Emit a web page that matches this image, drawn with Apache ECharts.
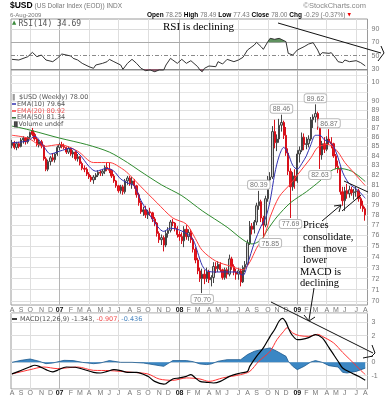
<!DOCTYPE html>
<html><head><meta charset="utf-8">
<script src="https://cdn.jsdelivr.net/npm/echarts@6.0.0/dist/echarts.min.js"></script>
<style>html,body{margin:0;padding:0;background:#fff;overflow:hidden}#chart{width:388px;height:400px}</style>
</head><body><div id="chart"></div>
<script>
// ---------- DATA (week index 0 = week of 7-Aug-2006, weekly bars) ----------
const weekOpen = [
85.1,85.4,84.9,85.3,85.0,85.7,85.9,85.5,86.0,86.7,
86.3,85.8,85.2,85.5,85.1,83.7,82.6,83.4,83.8,83.6,
84.2,84.9,85.2,85.0,84.9,84.4,84.8,84.2,84.4,83.7,
83.9,83.2,82.7,82.6,82.1,81.8,81.5,81.8,82.0,82.3,
82.2,82.4,82.8,82.6,82.5,81.9,81.4,80.9,80.4,80.8,
80.3,81.4,81.7,81.1,81.4,80.9,80.0,79.2,78.3,78.5,
78.0,78.3,78.2,77.6,77.2,76.2,75.6,75.8,75.1,76.2,
76.5,77.3,77.2,76.7,76.1,75.9,75.5,76.6,75.9,76.3,
75.6,74.7,73.7,72.7,72.0,72.4,72.0,72.6,71.9,72.1,
73.1,72.9,73.3,72.8,72.1,72.8,72.4,73.8,73.1,72.6,
72.4,72.7,71.7,73.0,73.3,75.3,76.9,76.6,77.3,78.9,
79.3,77.7,77.0,79.6,81.5,81.8,86.6,85.4,85.8,87.3,
87.6,86.2,84.3,82.4,80.8,81.9,81.4,84.2,84.6,86.0,
85.2,85.3,85.8,87.9,88.2,88.6,87.3,84.1,85.3,84.7,
85.8,85.5,85.3,84.0,82.9,82.6,80.3,79.4,80.4,80.1,
80.5,80.2,80.3,80.4,79.6,78.9,78.6];
const weekHigh = [
85.7,85.6,85.5,85.5,85.9,86.1,86.0,86.1,86.6,87.0,
86.5,86.0,85.7,85.7,85.2,83.9,83.6,84.0,84.3,84.3,
85.1,85.4,85.5,85.3,85.0,85.0,84.9,84.6,84.5,84.2,
84.0,83.4,83.0,82.8,82.3,82.0,82.0,82.2,82.5,82.5,
82.6,83.0,83.3,83.3,82.6,82.1,81.5,81.0,81.0,81.0,
81.6,81.9,81.9,81.8,81.6,81.0,80.2,79.4,78.8,78.9,
78.5,78.7,78.3,77.8,77.3,76.4,76.1,76.0,76.5,76.8,
77.5,77.6,77.3,76.9,76.4,76.3,76.9,77.0,76.6,76.6,
75.8,74.9,73.9,73.0,72.9,72.8,73.0,72.8,72.3,73.5,
73.5,73.6,73.5,72.9,73.0,73.0,74.2,74.0,73.3,72.9,
73.0,72.9,73.2,73.6,75.6,77.4,77.2,77.5,79.2,80.39,
79.5,77.9,79.9,81.9,82.3,87.2,87.9,86.3,88.0,88.46,
87.8,87.1,84.8,82.7,82.3,82.6,84.6,85.0,86.5,86.4,
86.0,86.2,88.2,88.5,89.62,88.8,87.5,85.6,86.0,86.1,
86.87,86.0,85.4,84.2,83.5,82.8,80.8,80.8,81.1,80.9,
80.8,80.6,80.8,80.6,79.8,79.4,78.8];
const weekLow = [
84.8,84.7,84.6,84.8,84.9,85.3,85.2,85.3,85.8,86.1,
85.6,85.0,84.9,84.8,83.5,82.4,82.4,83.0,83.4,83.3,
84.0,84.6,84.8,84.7,84.2,84.2,84.0,83.8,83.5,83.4,
83.0,82.5,82.3,81.9,81.6,81.3,81.1,81.5,81.8,81.9,
81.9,82.1,82.4,82.2,81.7,81.2,80.7,80.2,80.1,80.0,
80.1,81.0,80.9,80.6,80.6,79.7,78.9,78.1,77.9,77.7,
77.6,77.9,77.3,76.9,75.9,75.3,75.1,74.5,74.9,75.8,
76.3,76.9,76.4,75.8,75.5,75.2,74.9,75.6,75.5,75.3,
74.4,73.4,72.4,71.7,70.70,71.5,71.7,71.6,71.3,71.6,
72.5,72.6,72.6,71.9,71.9,72.0,72.2,72.8,72.3,71.9,
71.9,71.3,71.6,72.6,73.2,75.1,76.1,76.2,77.0,78.5,
77.3,75.85,76.8,79.3,80.9,81.6,84.8,84.5,85.4,86.6,
85.8,84.0,82.0,77.69,80.4,80.6,81.2,83.3,84.4,84.6,
84.7,84.9,85.6,87.0,87.6,86.8,82.63,83.6,84.3,84.5,
85.2,84.8,83.8,82.6,82.2,80.0,78.9,78.4,79.6,79.7,
79.9,79.5,79.8,79.3,78.6,78.3,77.43];
const weekClose = [
85.4,84.9,85.3,85.0,85.7,85.9,85.5,86.0,86.5,86.3,
85.8,85.2,85.5,85.1,83.7,82.6,83.4,83.8,83.6,84.2,
84.9,85.2,85.0,84.9,84.4,84.8,84.2,84.4,83.7,83.9,
83.2,82.7,82.6,82.1,81.8,81.5,81.8,82.0,82.3,82.2,
82.4,82.8,82.6,82.5,81.9,81.4,80.9,80.4,80.8,80.3,
81.4,81.7,81.1,81.4,80.9,80.0,79.2,78.3,78.5,78.0,
78.3,78.2,77.6,77.2,76.2,75.6,75.8,75.1,76.2,76.5,
77.3,77.2,76.7,76.1,75.9,75.5,76.6,75.9,76.3,75.6,
74.7,73.7,72.7,72.0,72.4,72.0,72.6,71.9,72.1,73.1,
72.9,73.3,72.8,72.1,72.8,72.4,73.8,73.1,72.6,72.4,
72.7,71.7,73.0,73.3,75.3,76.9,76.6,77.3,78.9,79.3,
77.7,77.0,79.6,81.5,81.8,86.6,85.4,85.8,87.3,87.6,
86.2,84.3,82.4,80.8,81.9,81.4,84.2,84.6,86.0,85.2,
85.3,85.8,87.9,88.2,88.6,87.3,84.1,85.3,84.7,85.8,
85.5,85.3,84.0,82.9,82.6,80.3,79.4,80.4,80.1,80.5,
80.2,80.3,80.4,79.6,78.9,78.6,78.0];

const ema10 = [[0,85.4],[7,85.6],[10,86.1],[14,85.0],[17,84.2],[21,84.5],[26,84.8],[30,84.1],[34,82.9],[37,82.4],[42,82.7],[45,82.4],[48,81.6],[51,81.2],[54,80.9],[57,79.4],[62,77.6],[67,76.4],[70,76.7],[73,76.6],[77,76.2],[80,75.6],[82,74.4],[84,73.2],[86,72.7],[90,72.6],[95,72.6],[99,72.6],[102,72.3],[104,73.3],[107,75.3],[110,76.9],[112,77.7],[114,79.4],[116,82.1],[118,84.0],[120,84.9],[122,84.2],[124,83.0],[126,82.6],[128,83.2],[130,84.0],[132,85.2],[134,86.2],[136,86.2],[138,85.7],[140,85.5],[142,85.0],[144,83.8],[146,82.3],[148,81.4],[150,80.9],[153,80.4],[156,79.64]];
const ema20 = [[0,86.2],[7,85.9],[14,85.0],[21,85.2],[29,84.5],[36,83.3],[43,83.3],[49,82.6],[52,82.0],[57,80.8],[64,79.2],[71,77.7],[77,77.1],[81,75.7],[84,74.6],[90,73.6],[97,73.1],[102,72.8],[105,73.5],[108,74.8],[111,75.8],[113,77.0],[114,77.8],[118,79.8],[123,81.1],[126,82.0],[132,83.8],[135,84.9],[139,85.2],[141,85.1],[144,84.4],[147,83.3],[150,82.5],[153,81.7],[156,80.92]];
const ema50 = [[0,87.2],[4,87.0],[9,86.7],[21,85.9],[33,85.2],[43,84.4],[51,83.3],[56,82.5],[66,81.0],[75,79.9],[84,78.4],[95,76.8],[102,75.6],[106,75.2],[110,75.6],[113,76.6],[117,77.8],[123,79.2],[130,80.3],[136,81.4],[140,82.3],[144,82.7],[150,82.4],[156,81.34]];

const rsi14 = [[0,44.5],[3,43.5],[7,48.5],[9,55],[11,48.5],[13,51],[15,43.5],[18,41],[20,46],[22,52.5],[26,49.5],[27,46],[29,43.5],[31,38.5],[34,33.5],[36,31],[37,36],[40,38.5],[42,41],[43,44.5],[45,41],[48,36],[49,29.5],[51,38.5],[53,44.5],[55,38.5],[57,31],[59,27.5],[61,28.5],[63,26],[65,28.5],[67,28.5],[68,36],[70,46],[71,43.5],[73,38.5],[75,44.5],[77,38.5],[79,42.5],[82,33.5],[83,28.5],[84,26],[85,31],[87,34.5],[90,33.5],[91,41],[93,37.5],[95,44.5],[98,41],[100,43.5],[102,47.5],[104,58.5],[106,63.5],[107,66],[108,70],[110,63.5],[111,59.5],[113,71],[114,76],[116,74.5],[118,76],[121,71],[122,53.5],[124,51],[126,58.5],[129,63.5],[131,67.5],[133,69.5],[135,58.5],[136,51],[137,54.5],[140,53.5],[141,54.5],[143,46],[144,41],[146,39.5],[147,43.5],[149,41],[152,42.5],[154,39.5],[156,34.69]];
const rsiOverbought = [[112.83,70],[113,71],[114,76],[116,74.5],[118,76],[121,71],[121.06,70]];
const rsiOversoldA = [[57.57,30],[59,27.5],[61,28.5],[63,26],[65,28.5],[67,28.5],[67.2,30]];
const rsiOversoldB = [[82.7,30],[83,28.5],[84,26],[84.8,30]];

const macdLine = [[0,-0.87],[3,-0.68],[8,-0.33],[10,-0.22],[12,-0.3],[15,-0.55],[18,-0.72],[20,-0.6],[24,-0.35],[28,-0.37],[31,-0.5],[36,-0.75],[39,-0.8],[42,-0.68],[45,-0.55],[48,-0.62],[51,-0.75],[55,-0.75],[60,-1.05],[63,-1.43],[67,-1.63],[68,-1.6],[71,-1.25],[74,-1.17],[77,-1.05],[79,-0.92],[81,-1.17],[83,-1.43],[86,-1.5],[89,-1.55],[92,-1.43],[96,-1.05],[101,-0.8],[104,-0.68],[105,-0.3],[108,0.45],[111,1.08],[114,1.95],[116,2.46],[118,3.1],[119.5,3.3],[121,3.0],[122,2.6],[123.5,2.1],[126,1.7],[128,1.72],[131,1.85],[134,2.08],[137,1.83],[140,1.1],[144,0.08],[146,-0.42],[150,-0.8],[153,-1.05],[156,-1.343]];
const macdSignal = [[0,-0.87],[8,-0.55],[14,-0.35],[20,-0.47],[29,-0.35],[36,-0.6],[43,-0.62],[53,-0.75],[60,-0.87],[65,-1.25],[71,-1.35],[77,-1.17],[83,-1.25],[87,-1.43],[93,-1.17],[101,-0.92],[105,-0.68],[109,0.08],[114,0.83],[117,1.7],[120,2.33],[121.5,2.6],[124,2.2],[127,2.0],[131,1.95],[135,2.1],[137,1.95],[142,1.46],[146,0.75],[149,0.25],[152,-0.25],[154,-0.6],[156,-0.907]];
const macdHist = [[0,0],[4,0.15],[8,0.25],[12,0.08],[15,-0.1],[18,-0.05],[23,0.15],[27,0.13],[31,0],[36,-0.1],[39,-0.05],[43,0.13],[48,0],[53,0],[58,-0.05],[64,-0.22],[67,-0.3],[71,0.13],[77,0.13],[80,0.05],[83,-0.12],[86,-0.17],[88,-0.12],[91,0.08],[95,0.2],[101,0.2],[104,0.58],[107,0.83],[110,0.95],[114,1.08],[117,0.83],[121,0.45],[122,0.08],[124,-0.3],[126,-0.55],[129,-0.3],[132,0.03],[134,0.13],[137,0],[140,-0.25],[144,-0.35],[146,-0.75],[148,-0.8],[152,-0.68],[156,-0.436]];

const priceTickLabels = [70,71,72,73,74,75,76,77,78,79,80,81,82,83,84,85,86,87,88,89,90];
const priceExtraLines = [91,92,93];
const rsiLevels = [30,50,70,90];
const macdTickLabels = [3,2,0,-1];
const monthLetters = ['J','F','M','A','M','J','J','A','S','O','N','D'];
const priceNotes = [
  {week:134, value:89.62, side:'top'},
  {week:119, value:88.46, side:'top'},
  {week:140, value:86.87, side:'top'},
  {week:109, value:80.39, side:'top'},
  {week:136, value:82.63, side:'bottom'},
  {week:123, value:77.69, side:'bottom'},
  {week:111, value:75.85, side:'bottom', dx:7},
  {week:84,  value:70.70, side:'bottom'}
];

// ---------- helpers ----------
const nWeeks = weekClose.length;
function weekDate(i){ return new Date(2006, 7, 7 + 7*i); }
const monthStarts = [];
for (let i = 0; i < nWeeks; i++) {
  if (i === 0 || weekDate(i).getMonth() !== weekDate(i-1).getMonth()) monthStarts.push(i);
}
const quarterStarts = monthStarts.filter(i => weekDate(i).getMonth() % 3 === 0);
function monthLabel(v){
  const d = weekDate(Math.round(v));
  return d.getMonth() === 0 ? '{y|' + String(d.getFullYear()).slice(2) + '}' : monthLetters[d.getMonth()];
}
const candles = weekClose.map((c, i) => [i, weekOpen[i], c, weekLow[i], weekHigh[i]]);

const L = 11, W = 356.5;
const XMIN = -0.44, XMAX = 157;
const SANS = 'Liberation Sans', VER = 'DejaVu Sans', SERIF = 'Liberation Serif';

function vLines(){
  return quarterStarts.map(i => ({xAxis: i, lineStyle: {color: weekDate(i).getMonth() === 0 ? '#b5b5b5' : '#dedede', width: 1, type: 'solid'}}));
}
const xBase = {type:'value', min:XMIN, max:XMAX, axisLine:{show:false}, axisTick:{show:false}, splitLine:{show:false}};
const xLabel = {customValues: monthStarts, formatter: monthLabel, fontSize: 7, color: '#777', fontFamily: SANS,
  rich: {y: {fontWeight: 'bold', color: '#111', fontSize: 7, fontFamily: SANS}}};

const chart = echarts.init(document.getElementById('chart'), null, {renderer: 'canvas'});

function T(x, y, text, style, extra){
  return Object.assign({type:'text', x: x, y: y, z: 100, silent: true,
    style: Object.assign({text: text, fontFamily: SANS, fontSize: 7, fill: '#555', verticalAlign: 'middle'}, style || {})}, extra || {});
}
function Ln(x1,y1,x2,y2){ return {type:'line', z:100, silent:true, shape:{x1,y1,x2,y2}, style:{stroke:'#111', lineWidth:1}}; }
function PL(pts){ return {type:'polyline', z:100, silent:true, shape:{points: pts}, style:{stroke:'#111', lineWidth:1, fill:null}}; }

const option = {
  animation: false,
  backgroundColor: '#fff',
  textStyle: {fontFamily: SANS},
  grid: [
    {left: L, width: W, top: 19, height: 51, show: true, borderColor: '#9a9a9a', borderWidth: 1, backgroundColor: '#fff'},
    {left: L, width: W, top: 15.67, height: 66.67},
    {left: L, width: W, top: 70, height: 235, show: true, borderColor: '#9a9a9a', borderWidth: 1, backgroundColor: '#fff'},
    {left: L, width: W, top: 313, height: 76, show: true, borderColor: '#9a9a9a', borderWidth: 1, backgroundColor: '#fff'}
  ],
  xAxis: [
    Object.assign({}, xBase, {gridIndex: 0, axisLabel: {show: false}}),
    Object.assign({}, xBase, {gridIndex: 1, axisLabel: {show: false}}),
    Object.assign({}, xBase, {gridIndex: 2, axisLabel: Object.assign({}, xLabel, {margin: 2})}),
    Object.assign({}, xBase, {gridIndex: 3, axisLabel: Object.assign({}, xLabel, {margin: 1})})
  ],
  yAxis: [
    {type:'value', gridIndex:0, min:0, max:1, show:false},
    {type:'value', gridIndex:1, position:'right', min:10, max:110, interval:20,
      axisLine:{show:false}, axisTick:{show:false}, splitLine:{show:false},
      axisLabel:{fontSize:7, color:'#777', margin:4, formatter: v => v === 110 ? '' : String(v)}},
    {type:'log', logBase:10, gridIndex:2, position:'right', min:69.65, max:93.57,
      axisLine:{show:false}, axisTick:{show:false}, splitLine:{show:false}, axisLabel:{show:false}},
    {type:'value', gridIndex:3, position:'right', min:-2, max:3.7, interval:1,
      axisLine:{show:false}, axisTick:{show:false},
      splitLine:{show:true, lineStyle:{color:'#dedede', width:1}},
      axisLabel:{fontSize:7, color:'#777', margin:4, formatter: v => macdTickLabels.indexOf(v) >= 0 ? String(v) : ''}}
  ],
  series: [
    // RSI frame vertical grid
    {type:'line', xAxisIndex:0, yAxisIndex:0, data:[], silent:true,
      markLine:{silent:true, z:1, symbol:['none','none'], label:{show:false}, data: vLines()}},
    // RSI level lines
    {type:'line', xAxisIndex:1, yAxisIndex:1, data:[], silent:true,
      markLine:{silent:true, z:1, symbol:['none','none'], label:{show:false},
        data: rsiLevels.map(v => ({yAxis: v, lineStyle: {
          color: v === 30 ? '#8a8a8a' : (v === 50 ? '#8a8a8a' : (v === 70 ? '#aaaaaa' : '#dcdcdc')),
          width: 1, type: v === 50 ? [4,2,1,2] : 'solid'}}))}},
    {type:'line', xAxisIndex:1, yAxisIndex:1, data: rsiOverbought, symbol:'none', silent:true, z:2,
      lineStyle:{width:0}, areaStyle:{origin:70, color:'#5f915f', opacity:1}},
    {type:'line', xAxisIndex:1, yAxisIndex:1, data: rsiOversoldA, symbol:'none', silent:true, z:2,
      lineStyle:{width:0}, areaStyle:{origin:30, color:'#8d5a6c', opacity:1}},
    {type:'line', xAxisIndex:1, yAxisIndex:1, data: rsiOversoldB, symbol:'none', silent:true, z:2,
      lineStyle:{width:0}, areaStyle:{origin:30, color:'#8d5a6c', opacity:1}},
    {name:'RSI', type:'line', xAxisIndex:1, yAxisIndex:1, data: rsi14, symbol:'none', z:3,
      lineStyle:{color:'#333', width:1}},
    // Main panel grid lines
    {type:'line', xAxisIndex:2, yAxisIndex:2, data:[], silent:true,
      markLine:{silent:true, z:1, symbol:['none','none'], label:{show:false},
        data: priceTickLabels.map(v => ({yAxis: v, lineStyle:{color:'#e0e0e0', width:1, type:'solid'},
              label:{show:true, position:'end', distance:4, formatter: String(v), fontSize:7, color:'#777'}}))
          .concat(priceExtraLines.map(v => ({yAxis: v, lineStyle:{color:'#e6e6e6', width:1, type:'solid'}})))
          .concat(vLines())}},
    {name:'$USD', type:'candlestick', xAxisIndex:2, yAxisIndex:2, data: candles, z:3, barWidth: 1.8,
      itemStyle:{color:'#cfcfcf', color0:'#e8141a', borderColor:'#444', borderColor0:'#d8101a', borderWidth:1},
      markPoint:{symbol:'circle', symbolSize:0, silent:true, z:6,
        label:{show:true, fontSize:7, color:'#777', fontFamily:SANS, backgroundColor:'#fff', borderColor:'#bbb',
          borderWidth:1, borderRadius:2, padding:[1,2,0,2]},
        data: priceNotes.map(n => ({coord:[n.week, n.value], name: n.value.toFixed(2),
          label:{position:n.side, distance:2, formatter:'{b}', offset:[n.dx || 0, 0]}}))}},
    {name:'EMA50', type:'line', xAxisIndex:2, yAxisIndex:2, data: ema50, symbol:'none', smooth:0.3, z:4,
      lineStyle:{color:'#2e8b2e', width:1}},
    {name:'EMA20', type:'line', xAxisIndex:2, yAxisIndex:2, data: ema20, symbol:'none', smooth:0.3, z:4,
      lineStyle:{color:'#ff3b3b', width:1}},
    {name:'EMA10', type:'line', xAxisIndex:2, yAxisIndex:2, data: ema10, symbol:'none', smooth:0.3, z:4,
      lineStyle:{color:'#3030b0', width:1}},
    // MACD panel
    {type:'line', xAxisIndex:3, yAxisIndex:3, data:[], silent:true,
      markLine:{silent:true, z:1, symbol:['none','none'], label:{show:false}, data: vLines()}},
    {name:'Hist', type:'line', xAxisIndex:3, yAxisIndex:3, data: macdHist, symbol:'none', z:2,
      lineStyle:{color:'#1d5a8f', width:0.8}, areaStyle:{color:'#3b87c4', opacity:1}},
    {name:'Signal', type:'line', xAxisIndex:3, yAxisIndex:3, data: macdSignal, symbol:'none', smooth:0.3, z:3,
      lineStyle:{color:'#ff3333', width:1}},
    {name:'MACD', type:'line', xAxisIndex:3, yAxisIndex:3, data: macdLine, symbol:'none', smooth:0.3, z:4,
      lineStyle:{color:'#000', width:1.2}}
  ],
  graphic: [
    T(10, 6, '{b|$USD} {g|(US Dollar Index (EOD)) INDX}', {rich:{
      b:{fontFamily:SANS, fontWeight:'bold', fontSize:8.5, fill:'#000'},
      g:{fontFamily:SANS, fontSize:6.5, fill:'#777'}}}),
    T(10, 15, '6-Aug-2009', {fontSize:6, fill:'#777'}),
    T(366, 6, '\u00a9StockCharts.com', {fontSize:7.5, fill:'#888', align:'right'}),
    T(147, 15, '{b|Open} {v|78.25} {b|High} {v|78.49} {b|Low} {v|77.43} {b|Close} {v|78.00} {b|Chg} {v|-0.29 (-0.37%)} {r|\u25BC}', {rich:{
      b:{fontFamily:SANS, fontWeight:'bold', fontSize:6.5, fill:'#000'},
      v:{fontFamily:SANS, fontSize:6.5, fill:'#777'},
      r:{fontFamily:VER, fontSize:4.5, fill:'#e00'}}}),
    T(12, 23, '\u25B2', {fontFamily:VER, fontSize:5.5, fill:'#3a8a3a'}),
    T(18.5, 23.5, 'RSI(14) 34.69', {fontFamily:'DejaVu Sans Mono', fontSize:8, fill:'#555'}),
    T(163, 27.5, 'RSI is declining', {fontFamily:SERIF, fontSize:11, fill:'#000'}),
    // main legend
    T(12, 97.5, '\u2016', {fontFamily:VER, fontSize:6.5, fill:'#333'}),
    T(19, 97.5, '$USD (Weekly) 78.00', {fontFamily:VER, fontSize:6.5, fill:'#555'}),
    {type:'line', z:100, silent:true, shape:{x1:12, y1:104, x2:16, y2:104}, style:{stroke:'#3030b0', lineWidth:1.5}},
    T(17, 104, 'EMA(10) 79.64', {fontFamily:VER, fontSize:6.5, fill:'#555'}),
    {type:'line', z:100, silent:true, shape:{x1:12, y1:111, x2:16, y2:111}, style:{stroke:'#ff3b3b', lineWidth:1.5}},
    T(17, 111, 'EMA(20) 80.92', {fontFamily:VER, fontSize:6.5, fill:'#e55'}),
    {type:'line', z:100, silent:true, shape:{x1:12, y1:117.8, x2:16, y2:117.8}, style:{stroke:'#2e6b2e', lineWidth:1.5}},
    T(17, 117.8, 'EMA(50) 81.34', {fontFamily:VER, fontSize:6.5, fill:'#555'}),
    T(12, 124.3, '\u2590\u258C', {fontFamily:VER, fontSize:5, fill:'#444'}),
    T(18.5, 124.3, 'Volume undef', {fontFamily:VER, fontSize:6.5, fill:'#555'}),
    // MACD legend
    {type:'line', z:100, silent:true, shape:{x1:12, y1:319, x2:17, y2:319}, style:{stroke:'#000', lineWidth:1.5}},
    T(20, 319, '{k|MACD(12,26,9) -1.343,} {r|-0.907,} {b|-0.436}', {rich:{
      k:{fontFamily:VER, fontSize:6.5, fill:'#555'},
      r:{fontFamily:VER, fontSize:6.5, fill:'#f05050'},
      b:{fontFamily:VER, fontSize:6.5, fill:'#4a86c0'}}}),
    // annotations
    Ln(278, 23, 381, 53),
    PL([[381,46],[384,53],[378,61]]),
    Ln(344, 181, 368, 192),
    Ln(342, 211, 361, 195),
    Ln(322, 221, 341, 205),
    PL([[334,206],[341,205],[339,212]]),
    T(303, 225, 'Prices', {fontFamily:SERIF, fontSize:10.5, fill:'#000'}),
    T(303, 237, 'consolidate,', {fontFamily:SERIF, fontSize:10.5, fill:'#000'}),
    T(303, 249, 'then move', {fontFamily:SERIF, fontSize:10.5, fill:'#000'}),
    T(303, 260.5, 'lower', {fontFamily:SERIF, fontSize:10.5, fill:'#000'}),
    T(300, 272, 'MACD is', {fontFamily:SERIF, fontSize:10.5, fill:'#000'}),
    T(300, 283.5, 'declining', {fontFamily:SERIF, fontSize:10.5, fill:'#000'}),
    Ln(314, 288, 309, 320),
    PL([[304,315],[309,321],[315,317]]),
    Ln(271, 302, 373, 353),
    PL([[372,345],[375,353],[371,357]]),
    Ln(363, 358, 373, 356)
  ]
};
chart.setOption(option);
</script>
</body></html>
